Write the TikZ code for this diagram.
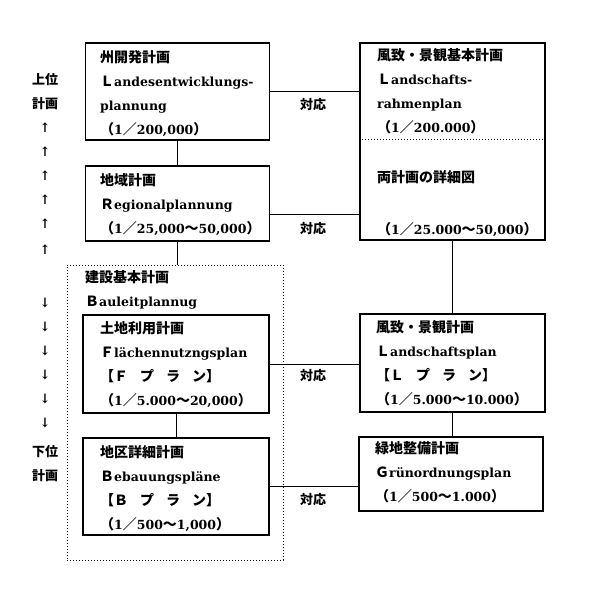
\documentclass[tikz,border=0pt]{standalone}
\usepackage{fontspec}
\setmainfont{DejaVu Serif}
\newfontfamily\jpfont{Noto Sans CJK JP}
\newcommand\jp[1]{{\jpfont\bfseries\fontsize{14}{24}\selectfont #1}}
\usetikzlibrary{calc}

\begin{document}
\begin{tikzpicture}[x=1pt,y=-1pt,
  planbox/.style={draw,line width=1.6pt,inner sep=0pt},
  groupbox/.style={draw,dotted,line width=1pt,inner sep=0pt},
  txt/.style={anchor=north west,align=left,inner sep=0pt,font=\fontsize{12.5}{24}\selectfont\bfseries},
  link/.style={line width=1pt},
  tag/.style={inner sep=0pt,font=\jpfont\bfseries\fontsize{13}{13}\selectfont},
  pointer/.style={inner sep=0pt,font=\bfseries\fontsize{13}{13}\selectfont}]
  \useasboundingbox[fill=white] (0,0) rectangle (600,590);

  % boxes
  \node[planbox,minimum width=184,minimum height=97] (landes) at (177.5,91.5) {};
  \node[planbox,minimum width=184,minimum height=75] (region) at (177.5,203.5) {};
  \node[planbox,minimum width=185,minimum height=197] (rahmen) at (452.5,141.5) {};
  \node[groupbox,minimum width=216,minimum height=295] (bauleit) at (175,412.5) {};
  \node[planbox,minimum width=186,minimum height=98] (fplan) at (176,364) {};
  \node[planbox,minimum width=186,minimum height=97] (bplan) at (176,486.5) {};
  \node[planbox,minimum width=185,minimum height=98] (lplan) at (452.5,363) {};
  \node[planbox,minimum width=184,minimum height=74] (gplan) at (451,474) {};
  \coordinate (split) at (452,139);
  \draw[dotted,line width=1pt] (rahmen.west |- split) -- (rahmen.east |- split);

  % texts
  \node[txt] (landestxt) at (100,50) {\jp{州開発計画}\\\jp{Ｌ}andesentwicklungs-\\plannung\\\jp{（}1\jp{／}200,000\jp{）}};
  \node[txt] (regiontxt) at (100,173) {\jp{地域計画}\\\jp{Ｒ}egionalplannung\\\jp{（}1\jp{／}25,000\jp{～}50,000\jp{）}};
  \node[txt] (rahmentxt) at (377,48) {\jp{風致・景観基本計画}\\\jp{Ｌ}andschafts-\\rahmenplan\\\jp{（}1\jp{／}200.000\jp{）}};
  \node[txt] (detailtxt) at (377,170) {\jp{両計画の詳細図}};
  \node[txt] (detailscale) at (377,222) {\jp{（}1\jp{／}25.000\jp{～}50,000\jp{）}};
  \node[txt] (bauleittxt) at (85,270) {\jp{建設基本計画}\\\jp{Ｂ}auleitplannug};
  \node[txt] (fplantxt) at (100,321) {\jp{土地利用計画}\\\jp{Ｆ}lächennutzngsplan\\\jp{【Ｆ\hspace{12pt}プ\hspace{12pt}ラ\hspace{12pt}ン】}\\\jp{（}1\jp{／}5.000\jp{～}20,000\jp{）}};
  \node[txt] (bplantxt) at (100,445) {\jp{地区詳細計画}\\\jp{Ｂ}ebauungspläne\\\jp{【Ｂ\hspace{12pt}プ\hspace{12pt}ラ\hspace{12pt}ン】}\\\jp{（}1\jp{／}500\jp{～}1,000\jp{）}};
  \node[txt] (lplantxt) at (376,320) {\jp{風致・景観計画}\\\jp{Ｌ}andschaftsplan\\\jp{【Ｌ\hspace{12pt}プ\hspace{12pt}ラ\hspace{12pt}ン】}\\\jp{（}1\jp{／}5.000\jp{～}10.000\jp{）}};
  \node[txt] (gplantxt) at (375,441) {\jp{緑地整備計画}\\\jp{Ｇ}rünordnungsplan\\\jp{（}1\jp{／}500\jp{～}1.000\jp{）}};

  % connectors
  \draw[link] (landes.south) -- (region.north);
  \draw[link] (region.south) -- (region.south |- bauleit.north);
  \draw[link] (fplan.south) -- (bplan.north);
  \draw[link] (rahmen.south) -- (lplan.north);
  \draw[link] (lplan.south) -- (lplan.south |- gplan.north);
  \draw[link] (landes.east) -- (landes.east -| rahmen.west);
  \draw[link] ([yshift=-10.5pt]region.east) -- ([yshift=-10.5pt]region.east -| rahmen.west);
  \draw[link] (fplan.east) -- (fplan.east -| lplan.west);
  \draw[link] (bplan.east) -- (bplan.east -| gplan.west);
  \node[tag] (match1) at (313,105) {対応};
  \node[tag] (match2) at (313,229) {対応};
  \node[tag] (match3) at (313,376) {対応};
  \node[tag] (match4) at (313,500) {対応};

  % hierarchy column
  \node[tag] (upper1) at (45,80) {上位};
  \node[tag] (upper2) at (45,104) {計画};
  \foreach \y [count=\i] in {128,152,176,200,224,250}
    \node[pointer] (up\i) at (45,\y) {↑};
  \foreach \y [count=\i] in {303,327,351,375,399,423}
    \node[pointer] (down\i) at (45,\y) {↓};
  \node[tag] (lower1) at (45,452) {下位};
  \node[tag] (lower2) at (45,476) {計画};
\end{tikzpicture}
\end{document}
